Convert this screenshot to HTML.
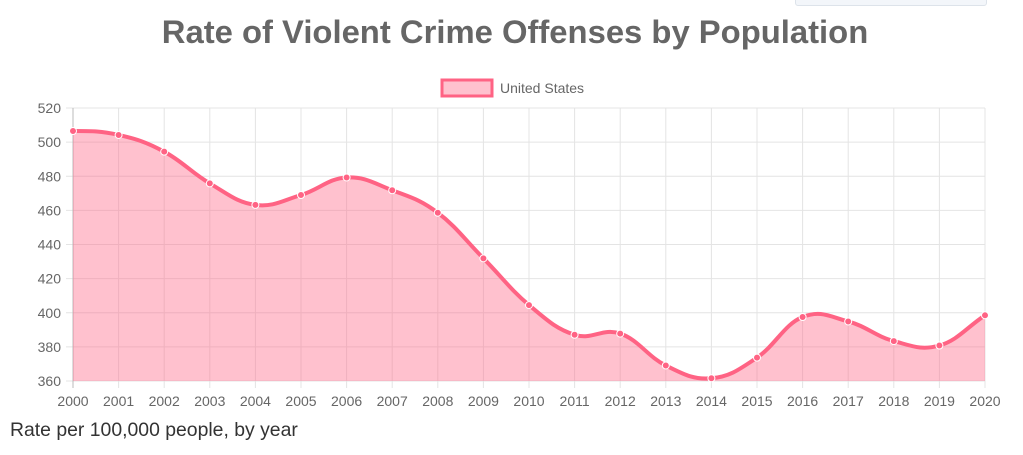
<!DOCTYPE html>
<html><head><meta charset="utf-8"><style>
body{margin:0;width:1023px;height:455px;background:#fff;overflow:hidden;font-family:"Liberation Sans",sans-serif;position:relative}
.t{position:absolute;left:0;width:1030px;top:13px;text-align:center;font-size:32.8px;font-weight:bold;color:#666}
.cap{position:absolute;left:10px;top:419px;font-size:19.4px;color:#333}
.tb{position:absolute;left:795px;top:-4px;width:190px;height:8px;border:1px solid #dde3ea;background:#f3f6fa;border-radius:3px}
</style></head><body>
<div class="tb"></div>
<div class="t">Rate of Violent Crime Offenses by Population</div>
<svg id="s" width="1023" height="455" style="position:absolute;left:0;top:0"></svg>
<div class="cap">Rate per 100,000 people, by year</div>
<script>
var s=document.getElementById('s'),h='';
var x0=73,dx=45.6,y0=381,ky=273/160;
function Y(v){return y0-(v-360)*ky}
for(var v=360;v<=520;v+=20){var y=Y(v);h+='<line x1="66" x2="985" y1="'+y+'" y2="'+y+'" stroke="#e4e4e4"/>';h+='<text x="61" y="'+(y+5)+'" text-anchor="end" font-size="14" fill="#666" font-family="Liberation Sans">'+v+'</text>';}
for(var i=0;i<=20;i++){var x=x0+i*dx;h+='<line x1="'+x+'" x2="'+x+'" y1="108" y2="388" stroke="'+(i==0?'#bbb':'#e4e4e4')+'"/>';h+='<text x="'+x+'" y="406" text-anchor="middle" font-size="14" fill="#666" font-family="Liberation Sans">'+(2000+i)+'</text>';}
var d=[506.5,504.2,494.4,475.8,463.2,469.0,479.3,471.8,458.6,431.9,404.5,387.1,387.8,369.1,361.6,373.7,397.5,394.9,383.4,380.8,398.5];
var p=d.map(function(v,i){return[x0+i*dx,Y(v)]});
var t=0.4,path='M'+p[0][0]+','+p[0][1];
for(var i=0;i<p.length-1;i++){var a=p[Math.max(i-1,0)],b=p[i],c=p[i+1],e=p[Math.min(i+2,p.length-1)];
var c1=[b[0]+(c[0]-a[0])*t/2,b[1]+(c[1]-a[1])*t/2],c2=[c[0]-(e[0]-b[0])*t/2,c[1]-(e[1]-b[1])*t/2];
if(i==0)c1=[b[0]+dx*t,b[1]];if(i==p.length-2)c2=[c[0]-dx*t,c[1]-(c[1]-b[1])*t];
path+=' C'+c1+' '+c2+' '+c;}
h+='<path d="'+path+' L985,381 L73,381Z" fill="rgba(255,99,132,0.4)"/>';
h+='<path d="'+path+'" fill="none" stroke="#ff6384" stroke-width="4"/>';
p.forEach(function(q){h+='<circle cx="'+q[0]+'" cy="'+q[1]+'" r="3.5" fill="#ff6384" stroke="#fff" stroke-width="1"/>'});
h+='<rect x="442" y="80" width="50" height="16" fill="rgba(255,99,132,0.4)" stroke="#ff6384" stroke-width="3"/>';
h+='<text x="500" y="93" font-size="14" fill="#666" font-family="Liberation Sans">United States</text>';
s.innerHTML=h;
</script>
</body></html>
